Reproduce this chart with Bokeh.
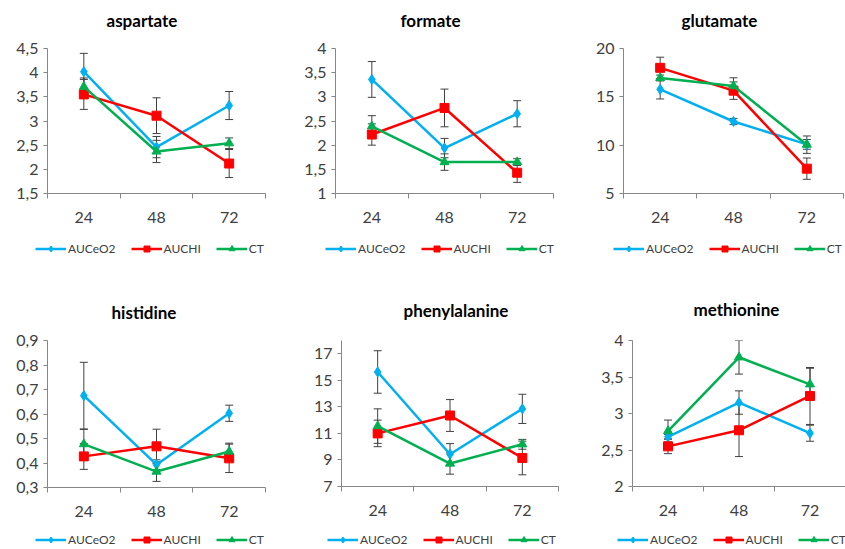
from bokeh.plotting import figure
from bokeh.layouts import column, row
from bokeh.models import (FixedTicker, CustomJSTickFormatter, Whisker, ColumnDataSource,
                          Legend, LegendItem, TeeHead, Range1d, Title)
from bokeh.embed import file_html
from bokeh.resources import INLINE

times = ["24", "48", "72"]
series_names = ["AUCeO2", "AUCHI", "CT"]

# aspartate
asp_auceo2 = [4.02, 2.46, 3.32]
asp_auceo2_err = [0.38, 0.22, 0.29]
asp_auchi = [3.55, 3.11, 2.12]
asp_auchi_err = [0.31, 0.37, 0.29]
asp_ct = [3.71, 2.37, 2.54]
asp_ct_err = [0.18, 0.23, 0.11]

# formate
for_auceo2 = [3.36, 1.94, 2.65]
for_auceo2_err = [0.37, 0.20, 0.27]
for_auchi = [2.22, 2.77, 1.43]
for_auchi_err = [0.22, 0.39, 0.20]
for_ct = [2.39, 1.65, 1.65]
for_ct_err = [0.22, 0.17, 0.07]

# glutamate
glu_auceo2 = [15.78, 12.45, 10.08]
glu_auceo2_err = [1.0, 0.3, 0.5]
glu_auchi = [18.0, 15.64, 7.57]
glu_auchi_err = [1.1, 0.9, 1.1]
glu_ct = [16.95, 16.12, 10.05]
glu_ct_err = [0.3, 0.85, 0.9]

# histidine
his_auceo2 = [0.675, 0.393, 0.603]
his_auceo2_err = [0.136, 0.02, 0.033]
his_auchi = [0.427, 0.468, 0.419]
his_auchi_err = [0.053, 0.07, 0.058]
his_ct = [0.477, 0.365, 0.447]
his_ct_err = [0.06, 0.04, 0.034]

# phenylalanine
phe_auceo2 = [15.63, 9.43, 12.85]
phe_auceo2_err = [1.6, 0.8, 1.1]
phe_auchi = [11.0, 12.35, 9.15]
phe_auchi_err = [1.0, 1.2, 1.27]
phe_ct = [11.55, 8.73, 10.18]
phe_ct_err = [1.3, 0.8, 0.37]

# methionine
met_auceo2 = [2.68, 3.15, 2.73]
met_auceo2_err = [0.03, 0.16, 0.11]
met_auchi = [2.55, 2.77, 3.24]
met_auchi_err = [0.10, 0.36, 0.39]
met_ct = [2.76, 3.77, 3.40]
met_ct_err = [0.15, 0.23, 0.22]

titles = ["aspartate", "formate", "glutamate", "histidine", "phenylalanine", "methionine"]
y_mins = [1.5, 1.0, 5.0, 0.3, 7.0, 2.0]
y_maxs = [4.5, 4.0, 20.0, 0.9, 18.0, 4.0]
y_steps = [0.5, 0.5, 5.0, 0.1, 2.0, 0.5]

panel_data = [
    [(asp_auceo2, asp_auceo2_err), (asp_auchi, asp_auchi_err), (asp_ct, asp_ct_err)],
    [(for_auceo2, for_auceo2_err), (for_auchi, for_auchi_err), (for_ct, for_ct_err)],
    [(glu_auceo2, glu_auceo2_err), (glu_auchi, glu_auchi_err), (glu_ct, glu_ct_err)],
    [(his_auceo2, his_auceo2_err), (his_auchi, his_auchi_err), (his_ct, his_ct_err)],
    [(phe_auceo2, phe_auceo2_err), (phe_auchi, phe_auchi_err), (phe_ct, phe_ct_err)],
    [(met_auceo2, met_auceo2_err), (met_auchi, met_auchi_err), (met_ct, met_ct_err)],
]

# layout geometry: (W, left, frame_w, top, frame_h, bottom,
#                   title_left, title_spacer, legend_left_abs)
geom = [
    (280, 47, 218, 48, 145, 40, 59, 14.5, 35),
    (280, 55, 218, 48, 145, 40, 65, 14.5, 325),
    (285, 63, 220, 48, 145, 40, 58, 14.5, 613),
    (280, 47, 218, 63, 147, 42, 64, 14.5, 35),
    (280, 61, 217, 66, 146, 40, 62, 16.5, 327),
    (285, 72, 213, 66, 146, 40, 61, 17.5, 617),
]
STRIP_H = [41, 22]          # legend strip heights below each row
LEG_CENTER = [15, 13]       # legend centre from strip top
LEG_H = 15

colors = ["#00B0F0", "#FF0000", "#00B050"]
markers = ["diamond", "square", "triangle"]
msizes = [10, 9, 9]
FONT = "Lato"
TXT = "#404040"

strips = []
for r in range(2):
    sf = figure(width=845, height=STRIP_H[r], output_backend="svg", toolbar_location=None,
                x_range=Range1d(100, 101), y_range=Range1d(100, 101),
                x_axis_location=None, y_axis_location=None, title=None, min_border=0)
    sf.outline_line_color = None
    sf.grid.visible = False
    strips.append(sf)

charts = []
for i, title in enumerate(titles):
    W, L, FW, T, FH, B, tl, tsp, lx = geom[i]
    p = figure(frame_width=FW, frame_height=FH, output_backend="svg", toolbar_location=None,
               x_range=Range1d(0.5, len(times) + 0.5),
               y_range=Range1d(y_mins[i], y_maxs[i]),
               min_border_left=L, min_border_right=W - L - FW,
               min_border_top=T, min_border_bottom=B)
    p.outline_line_color = None
    p.grid.visible = False
    p.background_fill_color = "white"
    p.border_fill_color = "white"

    # spacer between title and frame
    p.add_layout(Title(text=" ", text_font_size="1px", standoff=tsp), "above")
    p.title.text = title
    p.title.align = "left"
    p.title.offset = tl
    p.title.standoff = 0
    p.title.text_font = FONT
    p.title.text_font_size = "17px"
    p.title.text_font_style = "bold"
    p.title.text_color = "#000000"

    xs = list(range(1, len(times) + 1))
    xa = p.xaxis[0]
    xa.ticker = FixedTicker(ticks=xs, minor_ticks=[x - 0.5 for x in xs] + [xs[-1] + 0.5])
    xa.formatter = CustomJSTickFormatter(args=dict(labels=times),
                                         code="return labels[Math.round(tick) - 1];")
    xa.major_tick_out = 0
    xa.major_tick_in = 0
    xa.minor_tick_out = 5
    xa.minor_tick_in = 0
    xa.axis_line_color = "#868686"
    xa.minor_tick_line_color = "#868686"
    xa.major_label_text_font = FONT
    xa.major_label_text_font_size = "16px"
    xa.major_label_text_color = TXT
    xa.major_label_standoff = 13

    n = int(round((y_maxs[i] - y_mins[i]) / y_steps[i]))
    yt = [round(y_mins[i] + k * y_steps[i], 4) for k in range(n + 1)
          if y_mins[i] + k * y_steps[i] <= y_maxs[i] + 1e-9]
    ya = p.yaxis[0]
    ya.ticker = FixedTicker(ticks=yt, minor_ticks=[])
    ya.formatter = CustomJSTickFormatter(code="return (Math.round(tick*100)/100).toString().replace('.', ',');")
    ya.major_tick_out = 4
    ya.major_tick_in = 0
    ya.minor_tick_line_color = None
    ya.axis_line_color = "#868686"
    ya.major_tick_line_color = "#868686"
    ya.major_label_text_font = FONT
    ya.major_label_text_font_size = "16px"
    ya.major_label_text_color = TXT
    ya.major_label_standoff = 5

    r = i // 3
    sf = strips[r]
    items = []
    for s, (vals, errs) in enumerate(panel_data[i]):
        src = ColumnDataSource(dict(x=xs, y=vals,
                                    upper=[v + e for v, e in zip(vals, errs)],
                                    lower=[v - e for v, e in zip(vals, errs)]))
        wk = Whisker(source=src, base="x", upper="upper", lower="lower",
                     line_color="#404040", line_width=1,
                     upper_head=TeeHead(size=8, line_color="#404040", line_width=1),
                     lower_head=TeeHead(size=8, line_color="#404040", line_width=1))
        p.add_layout(wk)
        p.line("x", "y", source=src, line_color=colors[s], line_width=2.5)
        p.scatter("x", "y", source=src, marker=markers[s], size=msizes[s],
                  fill_color=colors[s], line_color=colors[s])
        # same series in the legend strip (kept outside its visible range)
        ln = sf.line("x", "y", source=src, line_color=colors[s], line_width=2.5)
        mk = sf.scatter("x", "y", source=src, marker=markers[s], size=msizes[s] - 2,
                        fill_color=colors[s], line_color=colors[s])
        items.append(LegendItem(label=series_names[s], renderers=[ln, mk]))

    vy = STRIP_H[r] - (LEG_CENTER[r] + LEG_H / 2)
    leg = Legend(items=items, orientation="horizontal", location=(lx, vy))
    leg.border_line_color = None
    leg.background_fill_alpha = 0
    leg.label_text_font = FONT
    leg.label_text_font_size = "12px"
    leg.label_text_color = TXT
    leg.label_height = LEG_H
    leg.glyph_width = 31
    leg.glyph_height = LEG_H
    leg.spacing = 15
    leg.padding = 0
    leg.margin = 0
    leg.label_standoff = 2
    sf.add_layout(leg)
    charts.append(p)

layout = column(row(charts[0], charts[1], charts[2], spacing=0), strips[0],
                row(charts[3], charts[4], charts[5], spacing=0), strips[1], spacing=0)
open("out.html", "w").write(file_html(layout, INLINE))
